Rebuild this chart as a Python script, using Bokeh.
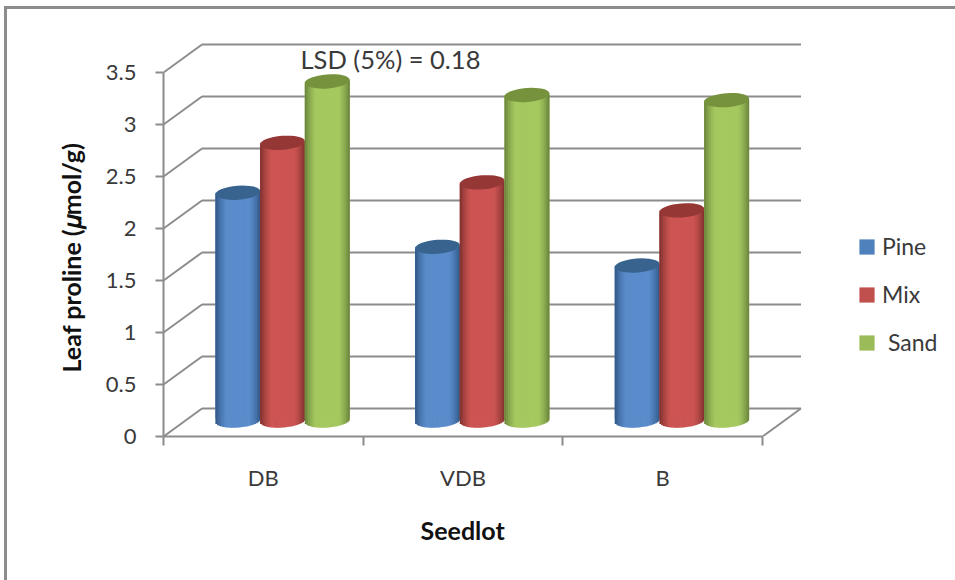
from bokeh.core.properties import value
from bokeh.embed import file_html
from bokeh.models import ColumnDataSource, FixedTicker, Legend, LegendItem, Range1d, Title
from bokeh.plotting import figure
from bokeh.resources import INLINE

seedlots = ["DB", "VDB", "B"]
pine = [2.19, 1.67, 1.49]
mix = [2.67, 2.29, 2.02]
sand = [3.26, 3.13, 3.08]
y_ticks = [0, 0.5, 1, 1.5, 2, 2.5, 3, 3.5]

series = [
    ("Pine", pine, "#4f81bd", "#5a8ccb", "#2f5584", "#38638f"),
    ("Mix", mix, "#c0504d", "#cc5452", "#7c2f2d", "#953735"),
    ("Sand", sand, "#9bbb59", "#a5c85f", "#67813a", "#76923c"),
]

FONT = "Lato"
GREY = "#8c8c8c"
INK = "#3a3a3a"

# Screen size of one category and of one unit of proline.
PX_X = 199.67
PX_Y = 104.0
DEPTH_X = 38.5 / PX_X
DEPTH_Y = 28.0 / PX_Y
BAR_W = 45.0 / PX_X
BAR_STEP = 44.7 / PX_X
CAP_H = 14.0 / PX_Y
TILT = 0.075 * (PX_X / PX_Y)  # rise of a cap across its width, in data units
STRIPS = 26


def blend(a, b, t):
    ca = [int(a[i:i + 2], 16) for i in (1, 3, 5)]
    cb = [int(b[i:i + 2], 16) for i in (1, 3, 5)]
    return "#%02x%02x%02x" % tuple(round(p + (q - p) * t) for p, q in zip(ca, cb))


p = figure(
    width=955, height=580, output_backend="svg", toolbar_location=None,
    x_range=Range1d(0, 792 / PX_X), y_range=Range1d(0, 426 / PX_Y),
    min_border_left=163, min_border_right=0, min_border_top=10, min_border_bottom=144,
    outline_line_color=None, background_fill_color="white", border_fill_color=None,
)
p.grid.visible = False

# Chart-area border along the top and left of the page, behind the transparent canvas margin.
p.styles = {
    "background": (
        f"linear-gradient({GREY},{GREY}) 4px 6px/100% 3px no-repeat,"
        f"linear-gradient({GREY},{GREY}) 4px 6px/3px 100% no-repeat,"
        "white"
    ),
}

# Category and value axes.
xa = p.xaxis[0]
xa.ticker = FixedTicker(ticks=[0.5, 1.5, 2.5], minor_ticks=[0, 1, 2, 3])
xa.major_label_overrides = {0.5: seedlots[0], 1.5: seedlots[1], 2.5: seedlots[2]}
xa.bounds = (0, 3)
xa.major_tick_line_color = None
xa.minor_tick_line_color = GREY
xa.minor_tick_line_width = 2
xa.minor_tick_in = 0
xa.minor_tick_out = 9
xa.major_label_standoff = 18
xa.major_label_text_font = FONT
xa.major_label_text_font_size = "22px"
xa.major_label_text_color = INK
xa.axis_line_color = GREY
xa.axis_line_width = 2

ya = p.yaxis[0]
ya.ticker = FixedTicker(ticks=y_ticks)
ya.bounds = (0, 3.5)
ya.minor_tick_line_color = None
ya.major_tick_line_color = GREY
ya.major_tick_line_width = 2
ya.major_tick_in = 0
ya.major_tick_out = 8
ya.major_label_standoff = 19
ya.major_label_text_font = FONT
ya.major_label_text_font_size = "22px"
ya.major_label_text_color = INK
ya.axis_line_color = GREY
ya.axis_line_width = 2

# Axis titles, offset along their axes so they centre on the drawn box.
p.add_layout(Title(
    text="Seedlot", align="left", offset=257, standoff=39,
    text_font=FONT, text_font_style="bold", text_font_size="25px", text_color="#111111",
), "below")
p.add_layout(Title(
    text="Leaf proline (\U0001D707mol/g)", align="left", offset=64, standoff=34,
    text_font=FONT, text_font_style="bold", text_font_size="25px", text_color="#111111",
), "left")

# Side wall, back wall and floor of the box.
p.segment(
    x0=[0.0] * len(y_ticks), y0=y_ticks,
    x1=[DEPTH_X] * len(y_ticks), y1=[v + DEPTH_Y for v in y_ticks],
    line_color=GREY, line_width=2,
)
p.segment(
    x0=[DEPTH_X] * len(y_ticks), y0=[v + DEPTH_Y for v in y_ticks],
    x1=[3 + DEPTH_X] * len(y_ticks), y1=[v + DEPTH_Y for v in y_ticks],
    line_color=GREY, line_width=2,
)
p.segment(x0=[3], y0=[0], x1=[3 + DEPTH_X], y1=[DEPTH_Y], line_color=GREY, line_width=2)

# Shaded cylinders: a flat body, vertical strips over it, then a darker elliptical cap.
base_x = 0.5 + DEPTH_X / 2
base_y = 16.0 / PX_Y
legend_items = []
for s, (name, values, flat, light, edge, cap) in enumerate(series):
    left, right, top, bottom, colour = [], [], [], [], []
    cap_x = []
    for i, v in enumerate(values):
        cx = i + base_x + (s - 1) * BAR_STEP
        cap_x.append(cx)
        for k in range(STRIPS):
            t0 = -1 + 2 * k / STRIPS
            t1 = t0 + 2 / STRIPS
            tm = (t0 + t1) / 2
            lift = tm * TILT * BAR_W / 2
            arc = (CAP_H / 2) * (1 - min(tm * tm, 1)) ** 0.5
            left.append(cx + t0 * BAR_W / 2)
            right.append(cx + min(t1 + 0.03, 1) * BAR_W / 2)
            top.append(v + base_y + lift)
            bottom.append(base_y + lift - arc)
            colour.append(blend(edge, light, min(1, (1 - abs(tm) ** 2.4) * 1.25)))
    body = p.quad(
        left=[x - BAR_W / 2 for x in cap_x], right=[x + BAR_W / 2 for x in cap_x],
        top=[v + base_y for v in values], bottom=[base_y + TILT * BAR_W / 2] * len(values),
        fill_color=flat, line_color=None,
    )
    p.quad(
        source=ColumnDataSource(dict(left=left, right=right, top=top, bottom=bottom, colour=colour)),
        left="left", right="right", top="top", bottom="bottom",
        fill_color="colour", line_color=None,
    )
    p.ellipse(
        x=cap_x, y=[v + base_y for v in values], width=BAR_W, height=CAP_H,
        angle=0.075, fill_color=cap, line_color=None,
    )
    legend_items.append(LegendItem(label=value(" Sand" if name == "Sand" else name), renderers=[body]))

# Significance note above the bars.
p.text(
    x=[137 / PX_X], y=[(436 - 58) / PX_Y], text=["LSD (5%) = 0.18"],
    text_font=value(FONT), text_font_size=value("25.5px"), text_color=INK,
    text_align="left", text_baseline="middle",
)

legend = Legend(
    items=legend_items, location=(694, 80), orientation="vertical",
    border_line_color=None, background_fill_color=None, margin=0, padding=0,
    glyph_width=19, glyph_height=19, label_height=19, spacing=20, label_standoff=6,
    label_text_font=FONT, label_text_font_size="23px", label_text_color=INK,
)
p.add_layout(legend, "center")

open("out.html", "w").write(file_html(p, INLINE))
